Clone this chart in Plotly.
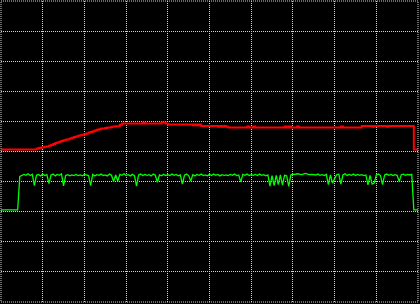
import plotly.graph_objects as go

# Oscilloscope-style capture: 10 x 10 divisions, samples every 0.05 div
sample_interval = 0.05

red_trace = [
    5.07, 5.07, 5.06, 5.07, 5.07, 5.07, 5.07, 5.07, 5.06, 5.07,
    5.07, 5.07, 5.07, 5.07, 5.07, 5.07, 5.07, 5.09, 5.12, 5.13,
    5.14, 5.16, 5.17, 5.19, 5.22, 5.25, 5.28, 5.30, 5.32, 5.35,
    5.37, 5.39, 5.41, 5.43, 5.46, 5.48, 5.50, 5.52, 5.54, 5.56,
    5.57, 5.60, 5.63, 5.65, 5.67, 5.70, 5.72, 5.74, 5.76, 5.76,
    5.78, 5.80, 5.80, 5.82, 5.83, 5.84, 5.84, 5.89, 5.93, 5.93,
    5.93, 5.93, 5.93, 5.93, 5.93, 5.93, 5.93, 5.93, 5.96, 5.93,
    5.93, 5.93, 5.93, 5.93, 5.93, 5.93, 5.93, 5.96, 5.96, 5.93,
    5.90, 5.90, 5.90, 5.90, 5.90, 5.90, 5.90, 5.90, 5.90, 5.90,
    5.90, 5.90, 5.87, 5.90, 5.87, 5.90, 5.85, 5.85, 5.85, 5.85,
    5.85, 5.85, 5.85, 5.85, 5.82, 5.85, 5.82, 5.85, 5.82, 5.80,
    5.80, 5.80, 5.80, 5.80, 5.80, 5.80, 5.80, 5.80, 5.83, 5.80,
    5.80, 5.83, 5.80, 5.80, 5.80, 5.80, 5.80, 5.80, 5.80, 5.80,
    5.80, 5.80, 5.80, 5.80, 5.80, 5.80, 5.83, 5.80, 5.83, 5.80,
    5.80, 5.80, 5.83, 5.80, 5.80, 5.80, 5.80, 5.80, 5.80, 5.80,
    5.80, 5.80, 5.80, 5.80, 5.80, 5.80, 5.80, 5.80, 5.80, 5.80,
    5.80, 5.80, 5.80, 5.83, 5.80, 5.80, 5.80, 5.80, 5.80, 5.80,
    5.80, 5.80, 5.80, 5.85, 5.85, 5.85, 5.85, 5.85, 5.82, 5.85,
    5.85, 5.85, 5.85, 5.85, 5.85, 5.82, 5.85, 5.85, 5.85, 5.85,
    5.85, 5.85, 5.85, 5.85, 5.85, 5.85, 5.85, 5.85, 5.07, 5.07,
    5.07,
]

green_trace = [
    3.06, 3.06, 3.06, 3.06, 3.06, 3.06, 3.06, 3.06, 3.06, 4.17,
    4.22, 4.24, 4.21, 4.26, 4.20, 4.24, 3.87, 4.21, 4.24, 4.19,
    4.25, 4.20, 4.23, 3.93, 4.22, 4.25, 4.19, 4.24, 4.21, 4.26,
    3.86, 4.20, 4.23, 4.19, 4.22, 4.20, 4.24, 4.20, 4.22, 4.19,
    4.24, 4.21, 4.20, 3.87, 4.24, 4.19, 4.23, 4.21, 4.25, 4.20,
    4.22, 4.19, 4.25, 4.21, 4.00, 4.22, 4.02, 4.24, 4.21, 4.26,
    4.20, 4.23, 4.19, 4.24, 4.20, 3.85, 4.22, 4.25, 4.20, 4.24,
    4.21, 4.23, 4.19, 4.25, 4.21, 3.98, 4.22, 4.19, 4.24, 4.20,
    4.23, 4.20, 4.25, 4.21, 4.24, 4.19, 4.22, 3.92, 4.21, 4.25,
    4.20, 4.02, 4.23, 4.19, 4.24, 4.21, 4.25, 4.20, 4.22, 4.19,
    4.24, 4.20, 4.25, 4.21, 4.24, 4.19, 4.23, 4.21, 4.22, 4.20,
    4.24, 4.21, 4.25, 4.20, 4.22, 3.99, 4.24, 4.21, 4.25, 4.20,
    4.23, 4.21, 4.24, 4.20, 4.25, 4.21, 4.23, 4.19, 4.22, 3.85,
    4.20, 3.87, 4.21, 3.90, 4.22, 3.88, 4.21, 4.19, 3.84, 4.22,
    4.25, 4.24, 4.26, 4.25, 4.23, 4.25, 4.27, 4.25, 4.23, 4.24,
    4.22, 4.22, 4.25, 4.21, 4.23, 4.20, 4.24, 3.90, 4.22, 3.95,
    4.10, 4.23, 4.25, 3.92, 4.22, 4.26, 4.20, 4.24, 4.21, 4.25,
    4.20, 4.24, 4.21, 4.23, 4.20, 4.22, 3.89, 4.21, 3.92, 3.95,
    4.22, 4.25, 4.20, 3.90, 4.22, 4.25, 4.21, 4.24, 4.20, 4.23,
    4.21, 4.00, 4.23, 4.25, 4.21, 4.24, 4.22, 4.24, 3.06, 3.06,
    3.06,
]

time_red = [i * sample_interval for i in range(len(red_trace))]
time_green = [i * sample_interval for i in range(len(green_trace))]

grid_color = "#d4d4d4"
grid_dash = "1px,1px"

fig = go.Figure()
fig.add_trace(go.Scatter(
    x=time_red, y=red_trace, mode="lines",
    line=dict(color="#ff0000", width=2, shape="hv"),
    hoverinfo="skip", showlegend=False,
))
fig.add_trace(go.Scatter(
    x=time_green, y=green_trace, mode="lines",
    line=dict(color="#00ff00", width=1.3, shape="linear"),
    hoverinfo="skip", showlegend=False,
))

axis_common = dict(
    range=[0, 10], dtick=1, tick0=0,
    showgrid=True, gridcolor=grid_color, gridwidth=1, griddash=grid_dash,
    zeroline=False, showline=False, showticklabels=False, ticks="",
    fixedrange=True,
)
fig.update_xaxes(**axis_common)
fig.update_yaxes(**axis_common)

fig.add_shape(
    type="rect", xref="paper", yref="paper", x0=0, y0=0, x1=1, y1=1,
    line=dict(color=grid_color, width=1, dash=grid_dash), layer="above",
)

fig.update_layout(
    width=420, height=304,
    margin=dict(l=1, r=2, t=1, b=2, pad=0),
    paper_bgcolor="#000000", plot_bgcolor="#000000",
    showlegend=False,
)

fig.write_html("out.html", config={"displayModeBar": False})
